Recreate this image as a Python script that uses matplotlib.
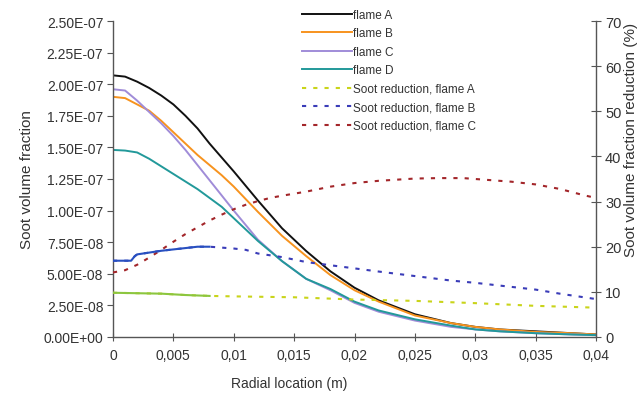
import matplotlib
matplotlib.use('Agg')
import matplotlib.pyplot as plt
import numpy as np
from matplotlib.ticker import FuncFormatter

plt.rcParams['font.family'] = ['Liberation Sans', 'DejaVu Sans']

# radial location (m)
r = [0, 0.001, 0.002, 0.003, 0.004, 0.005, 0.006, 0.007, 0.008, 0.009, 0.010,
     0.012, 0.014, 0.016, 0.018, 0.020, 0.022, 0.025, 0.028, 0.030, 0.032,
     0.035, 0.038, 0.040]

# soot volume fraction (x1e-7)
flame_a = [2.07, 2.06, 2.02, 1.97, 1.91, 1.84, 1.75, 1.65, 1.53, 1.42, 1.31,
           1.08, 0.86, 0.68, 0.52, 0.39, 0.29, 0.18, 0.11, 0.08, 0.06,
           0.045, 0.03, 0.02]
flame_b = [1.90, 1.89, 1.84, 1.79, 1.71, 1.62, 1.53, 1.44, 1.36, 1.28, 1.19,
           0.99, 0.80, 0.64, 0.49, 0.37, 0.28, 0.17, 0.11, 0.08, 0.06,
           0.04, 0.03, 0.02]
flame_c = [1.96, 1.95, 1.87, 1.78, 1.69, 1.59, 1.48, 1.36, 1.24, 1.12, 1.00,
           0.77, 0.60, 0.46, 0.37, 0.27, 0.20, 0.13, 0.08, 0.06, 0.045,
           0.03, 0.02, 0.015]
flame_d = [1.48, 1.475, 1.46, 1.41, 1.35, 1.29, 1.23, 1.17, 1.10, 1.03, 0.94,
           0.76, 0.60, 0.46, 0.38, 0.28, 0.21, 0.14, 0.09, 0.06, 0.045,
           0.03, 0.02, 0.015]

# soot reduction (%)
r_red_a = [0, 0.002, 0.004, 0.006, 0.008, 0.010, 0.015, 0.020, 0.025, 0.030, 0.035, 0.040]
red_a = [9.8, 9.7, 9.6, 9.3, 9.1, 9.0, 8.8, 8.3, 8.0, 7.5, 6.9, 6.5]

r_red_b = [0, 0.0015, 0.0018, 0.002, 0.003, 0.004, 0.005, 0.006, 0.007, 0.008,
           0.009, 0.010, 0.011, 0.012, 0.013, 0.014, 0.016, 0.018, 0.020, 0.022,
           0.025, 0.028, 0.030, 0.033, 0.035, 0.037, 0.040]
red_b = [16.9, 16.9, 17.9, 18.3, 18.7, 19.1, 19.4, 19.7, 20.0, 20.0,
         19.8, 19.6, 19.3, 18.5, 18.1, 17.7, 16.6, 15.9, 15.2, 14.5,
         13.5, 12.5, 12.0, 11.1, 10.5, 9.6, 8.4]

r_red_c = [0, 0.001, 0.002, 0.003, 0.004, 0.005, 0.006, 0.007, 0.008, 0.009,
           0.010, 0.011, 0.012, 0.013, 0.014, 0.016, 0.018, 0.020, 0.022, 0.025,
           0.027, 0.029, 0.031, 0.033, 0.035, 0.037, 0.039, 0.040]
red_c = [14.3, 14.8, 16.0, 17.6, 19.3, 21.1, 22.8, 24.3, 25.8, 27.1,
         28.3, 29.3, 30.1, 30.8, 31.3, 32.2, 33.3, 34.1, 34.6, 35.1,
         35.2, 35.2, 34.8, 34.4, 33.8, 32.8, 31.4, 30.8]

labels = ['flame A', 'flame B', 'flame C', 'flame D',
          'Soot reduction, flame A', 'Soot reduction, flame B', 'Soot reduction, flame C']

txt = '#333333'
fig = plt.figure(figsize=(6.39, 4.02), dpi=100)
ax1 = fig.add_axes([113/639, 1-338/402, (596-113)/639, (338-22)/402])
ax2 = ax1.twinx()

lw = 1.4
h1, = ax1.plot(r, np.array(flame_a)*1e-7, color='#111111', lw=lw)
h2, = ax1.plot(r, np.array(flame_b)*1e-7, color='#f7931e', lw=lw)
h3, = ax1.plot(r, np.array(flame_c)*1e-7, color='#a08cd8', lw=lw)
h4, = ax1.plot(r, np.array(flame_d)*1e-7, color='#22999a', lw=lw)

dash = (0, (2.0, 3.4))
h5, = ax2.plot(r_red_a, red_a, color='#c9d41a', lw=1.5, ls=dash)
h6, = ax2.plot(r_red_b, red_b, color='#3a3cb8', lw=1.5, ls=dash)
h7, = ax2.plot(r_red_c, red_c, color='#a3262a', lw=1.5, ls=dash)
# dense data near the centre draws as a solid line
n_a = 5
n_b = 10
ax2.plot(r_red_a[:n_a], red_a[:n_a], color='#8cc63f', lw=1.5)
ax2.plot(r_red_b[:n_b], red_b[:n_b], color='#2850c0', lw=1.5)

ax1.set_xlim(0, 0.04)
ax1.set_ylim(0, 2.5e-7)
ax2.set_ylim(0, 70)
ax1.set_xticks(np.arange(0, 0.0401, 0.005))
ax1.set_yticks(np.arange(0, 2.51e-7, 0.25e-7))
ax2.set_yticks(np.arange(0, 71, 10))

def xfmt(v, pos):
    s = ('%.3f' % v).rstrip('0').rstrip('.')
    return s.replace('.', ',')

ax1.xaxis.set_major_formatter(FuncFormatter(xfmt))
ax1.yaxis.set_major_formatter(FuncFormatter(lambda v, p: '0.00E+00' if v == 0 else '%.2E' % v))

for a in (ax1, ax2):
    a.spines['top'].set_visible(False)
    for s in a.spines.values():
        s.set_color('#555555')
        s.set_linewidth(1.0)
ax1.spines['right'].set_visible(False)
ax2.spines['left'].set_visible(False)
ax2.spines['bottom'].set_visible(False)

ax1.tick_params(axis='y', direction='out', length=4, color='#555555', labelsize=10, labelcolor=txt, pad=3)
ax1.tick_params(axis='x', direction='inout', length=6, color='#555555', labelsize=10, labelcolor=txt, pad=5)
ax2.tick_params(axis='y', direction='inout', length=7, color='#555555', labelsize=10.5, labelcolor=txt, pad=3)

ax1.set_ylabel('Soot volume fraction', fontsize=11, color=txt, labelpad=7)
ax1.set_xlabel('Radial location (m)', fontsize=10, color=txt)
ax1.xaxis.set_label_coords((289-113)/483, -0.125)
fig.text(631/639, 1-140/402, 'Soot volume fraction reduction (%)', rotation=90,
         ha='center', va='center', fontsize=11, color=txt)

fig.legend([h1, h2, h3, h4, h5, h6, h7], labels, loc='upper left',
           bbox_to_anchor=(302/639, 1-10/402), frameon=False,
           prop={'family': ['Liberation Sans Narrow', 'Liberation Sans'], 'size': 8.5},
           handlelength=4.2, handletextpad=0.1, labelspacing=0.55,
           borderpad=0, borderaxespad=0, labelcolor=txt)

fig.savefig('out.png', dpi=100)
